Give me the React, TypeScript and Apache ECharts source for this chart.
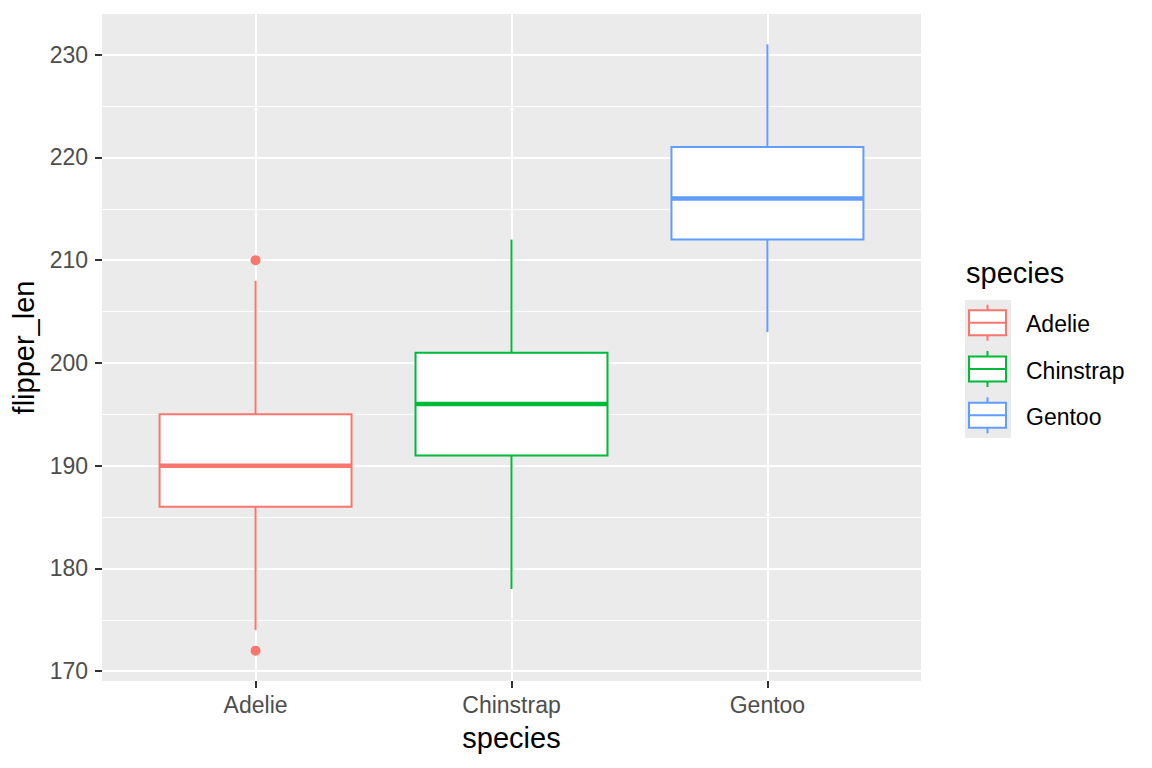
import React, { useEffect, useRef } from 'react';
import * as echarts from 'echarts';

// penguins: flipper length by species (boxplot stats)
const species = ['Adelie', 'Chinstrap', 'Gentoo'];
const colors = ['#F8766D', '#00BA38', '#619CFF'];
// [x, lower whisker, Q1, median, Q3, upper whisker]
const boxStats = [
  [1, 174, 186, 190, 195, 208],
  [2, 178, 191, 196, 201, 212],
  [3, 203, 212, 216, 221, 231],
];
const outliers = [
  [1, 172],
  [1, 210],
];
const yMajor = [170, 180, 190, 200, 210, 220, 230];
const yMinor = [175, 185, 195, 205, 215, 225];
const xTicks = [1, 2, 3];

const FONT = 'Liberation Sans, Arial, sans-serif';
const BOX_WIDTH = 0.75;

const App: React.FC = () => {
  const chartRef = useRef<HTMLDivElement | null>(null);

  useEffect(() => {
    if (!chartRef.current) return;
    const myChart = echarts.init(chartRef.current, null, { renderer: 'svg' });

    // legend drawn by hand, ggplot style
    const legend: any[] = [
      {
        type: 'text',
        left: 966,
        top: 258,
        style: { text: 'species', font: `29px ${FONT}`, fill: '#000' },
      },
      {
        type: 'rect',
        shape: { x: 965, y: 300, width: 46, height: 138 },
        style: { fill: '#EBEBEB' },
      },
    ];
    species.forEach((name, i) => {
      const cy = 322.7 + 46.3 * i;
      const c = colors[i];
      legend.push(
        { type: 'line', shape: { x1: 987.5, y1: cy - 18, x2: 987.5, y2: cy + 18 }, style: { stroke: c, lineWidth: 2 } },
        { type: 'rect', shape: { x: 969, y: cy - 12.5, width: 37, height: 25 }, style: { fill: '#fff', stroke: c, lineWidth: 2 } },
        { type: 'line', shape: { x1: 969, y1: cy, x2: 1006, y2: cy }, style: { stroke: c, lineWidth: 2 } },
        {
          type: 'text',
          left: 1026,
          top: cy - 10,
          style: { text: name, font: `23px ${FONT}`, fill: '#000' },
        }
      );
    });

    const option: any = {
      animation: false,
      grid: {
        left: 102,
        right: 231,
        top: 14,
        bottom: 87,
        show: true,
        backgroundColor: '#EBEBEB',
        borderWidth: 0,
      },
      xAxis: {
        type: 'value',
        min: 0.4,
        max: 3.6,
        name: 'species',
        nameLocation: 'middle',
        nameGap: 42,
        nameTextStyle: { fontSize: 29, color: '#000', fontFamily: FONT },
        axisLine: { show: false },
        axisTick: { show: true, customValues: xTicks, length: 7, lineStyle: { color: '#333', width: 2 } },
        axisLabel: {
          customValues: xTicks,
          margin: 12,
          fontSize: 23,
          color: '#4D4D4D',
          fontFamily: FONT,
          formatter: (v: number) => species[Math.round(v) - 1] ?? '',
        },
        splitLine: { show: true, lineStyle: { color: '#fff', width: 2 } },
      },
      yAxis: [
        {
          type: 'value',
          min: 169.05,
          max: 233.95,
          name: 'flipper_len',
          nameLocation: 'middle',
          nameGap: 56,
          nameTextStyle: { fontSize: 29, color: '#000', fontFamily: FONT },
          axisLine: { show: false },
          axisTick: { show: true, customValues: yMajor, length: 7, lineStyle: { color: '#333', width: 2 } },
          axisLabel: {
            customValues: yMajor,
            margin: 14,
            fontSize: 23,
            color: '#4D4D4D',
            fontFamily: FONT,
          },
          splitLine: { show: true, lineStyle: { color: '#fff', width: 2 } },
        },
        {
          type: 'value',
          min: 169.05,
          max: 233.95,
          axisLine: { show: false },
          axisTick: { show: false, customValues: yMinor },
          axisLabel: { show: false, customValues: yMinor },
          splitLine: { show: true, lineStyle: { color: '#fff', width: 1 } },
        },
      ],
      series: [
        {
          type: 'custom',
          data: boxStats,
          encode: { x: 0, y: [1, 2, 3, 4, 5] },
          renderItem: (params: any, api: any) => {
            const x = api.value(0);
            const c = colors[params.dataIndex];
            const half = api.size([BOX_WIDTH, 0])[0] / 2;
            const pLo = api.coord([x, api.value(1)]);
            const pQ1 = api.coord([x, api.value(2)]);
            const pMed = api.coord([x, api.value(3)]);
            const pQ3 = api.coord([x, api.value(4)]);
            const pHi = api.coord([x, api.value(5)]);
            const cx = pMed[0];
            return {
              type: 'group',
              children: [
                { type: 'line', shape: { x1: cx, y1: pHi[1], x2: cx, y2: pQ3[1] }, style: { stroke: c, lineWidth: 2 } },
                { type: 'line', shape: { x1: cx, y1: pQ1[1], x2: cx, y2: pLo[1] }, style: { stroke: c, lineWidth: 2 } },
                {
                  type: 'rect',
                  shape: { x: cx - half, y: pQ3[1], width: 2 * half, height: pQ1[1] - pQ3[1] },
                  style: { fill: '#fff', stroke: c, lineWidth: 2 },
                },
                {
                  type: 'line',
                  shape: { x1: cx - half, y1: pMed[1], x2: cx + half, y2: pMed[1] },
                  style: { stroke: c, lineWidth: 4.5 },
                },
              ],
            };
          },
          z: 3,
        },
        {
          type: 'scatter',
          data: outliers,
          symbol: 'circle',
          symbolSize: 10,
          itemStyle: { color: colors[0], opacity: 1 },
          z: 4,
        },
      ],
      graphic: legend,
    };

    myChart.setOption(option);

    return () => {
      myChart.dispose();
    };
  }, []);

  return (
    <div
      ref={chartRef}
      style={{ position: 'fixed', left: 0, top: 0, width: 1152, height: 768, background: '#fff' }}
    ></div>
  );
};

export default App;
